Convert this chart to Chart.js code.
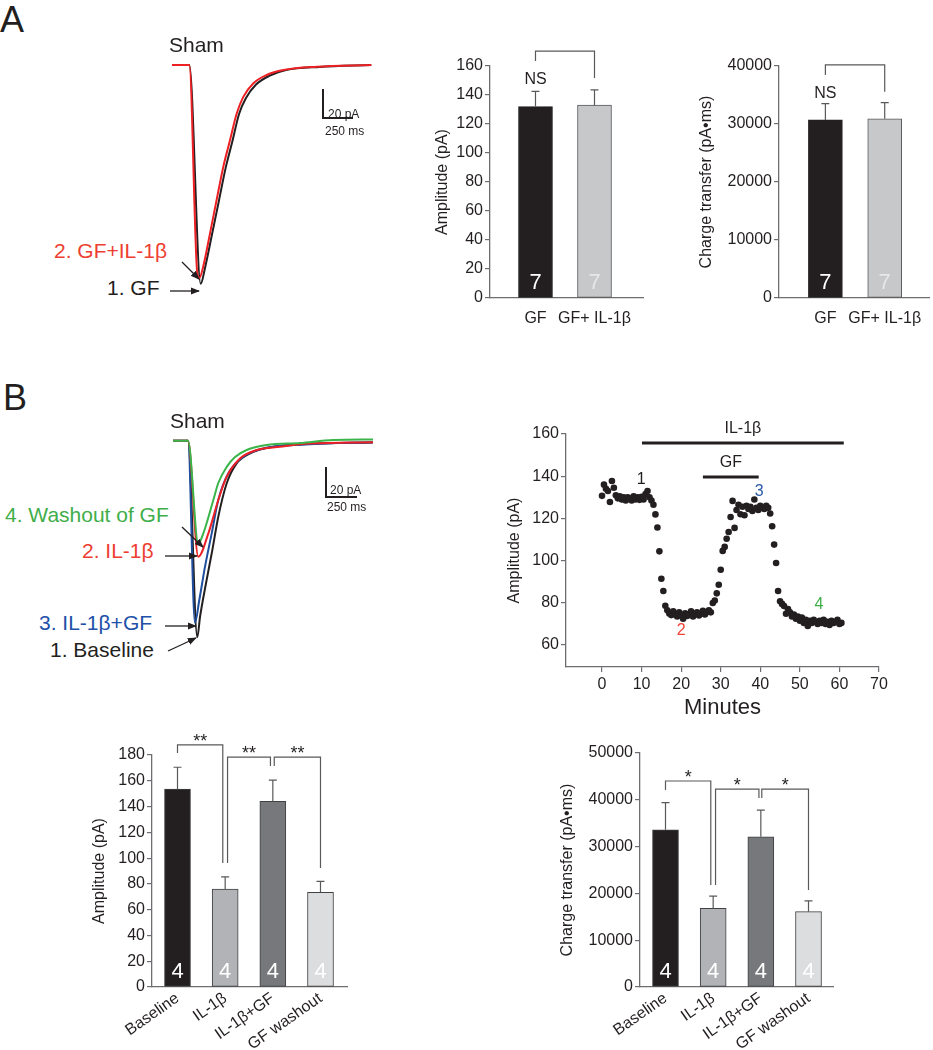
<!DOCTYPE html>
<html>
<head>
<meta charset="utf-8">
<script src="https://cdn.jsdelivr.net/npm/chart.js@4.4.1/dist/chart.umd.min.js"></script>
<style>
  body { margin: 0; background: #fff; font-family: "Liberation Sans", Arial, sans-serif; }
  #fig { position: relative; width: 933px; height: 1050px; overflow: hidden; background: #fff; }
  #fig canvas { position: absolute; }
  .rot { position: absolute; white-space: nowrap; line-height: 1; color: #231f20; z-index: 2; }
  #anot { position: absolute; left: 0; top: 0; z-index: 2; pointer-events: none; }
</style>
</head>
<body>
<div id="fig">
  <div class="rot" style="left:0px;top:2px;font-size:36px">A</div>
  <div class="rot" style="left:3px;top:380px;font-size:36px">B</div>

  <!-- rótulos dos traços do painel A -->
  <div class="rot" style="left:169px;top:34px;font-size:21px">Sham</div>
  <div class="rot" style="left:54px;top:240px;font-size:21px;color:#ee3e32">2. GF+IL-1β</div>
  <div class="rot" style="left:107px;top:277px;font-size:21px">1. GF</div>
  <div class="rot" style="left:328px;top:108px;font-size:12px">20 pA</div>
  <div class="rot" style="left:325px;top:125px;font-size:12px">250 ms</div>

  <!-- rótulos dos traços do painel B -->
  <div class="rot" style="left:170px;top:410px;font-size:21px">Sham</div>
  <div class="rot" style="left:5px;top:504px;font-size:21px;color:#3fae49">4. Washout of GF</div>
  <div class="rot" style="left:82px;top:540px;font-size:21px;color:#ee3e32">2. IL-1β</div>
  <div class="rot" style="left:39px;top:612px;font-size:21px;color:#2150a8">3. IL-1β+GF</div>
  <div class="rot" style="left:50px;top:639px;font-size:21px">1. Baseline</div>
  <div class="rot" style="left:330px;top:484px;font-size:12px">20 pA</div>
  <div class="rot" style="left:327px;top:501px;font-size:12px">250 ms</div>

  <svg id="anot" width="933" height="1050">
    <defs>
      <marker id="seta" viewBox="0 0 10 10" refX="9" refY="5" markerWidth="7" markerHeight="7" orient="auto">
        <path d="M0,1 L10,5 L0,9 z" fill="#231f20"/>
      </marker>
    </defs>
    <g stroke="#231f20" stroke-width="1.3" fill="none">
      <line x1="170" y1="291" x2="199" y2="291" marker-end="url(#seta)"/>
      <line x1="182" y1="262" x2="199" y2="279" marker-end="url(#seta)"/>
      <line x1="182" y1="527" x2="203" y2="547" marker-end="url(#seta)"/>
      <line x1="165" y1="556" x2="197" y2="556" marker-end="url(#seta)"/>
      <line x1="165" y1="626" x2="196" y2="626" marker-end="url(#seta)"/>
      <line x1="168" y1="651" x2="196" y2="638" marker-end="url(#seta)"/>
    </g>
    <!-- barras de escala -->
    <polyline points="323,89 323,118 353,118" fill="none" stroke="#231f20" stroke-width="2"/>
    <polyline points="326,467 326,497 357,497" fill="none" stroke="#231f20" stroke-width="2"/>
  </svg>
</div>

<script>
// ---------- Dados ----------
// Painel A: barras
const categoriasA = ['GF', 'GF+ IL-1β'];
const amplitudeA = [132, 133];
const amplitudeAErro = [10.5, 10.5];
const cargaA = [30700, 30900];
const cargaAErro = [2800, 2800];
const nA = [7, 7];

// Painel B: barras
const categoriasB = ['Baseline', 'IL-1β', 'IL-1β+GF', 'GF washout'];
const amplitudeB = [153.5, 76, 144, 73.5];
const amplitudeBErro = [17, 9.5, 16.5, 8.5];
const cargaB = [33600, 16800, 32100, 16100];
const cargaBErro = [5800, 2600, 5700, 2300];
const nB = [4, 4, 4, 4];

// Painel B: curso temporal (minutos, pA)
const tempo = [0, 0.5, 1, 1.5, 2, 2.5, 3, 3.5, 4, 4.5, 5, 5.5, 6, 6.5, 7, 7.5, 8, 8.5, 9, 9.5,
  10, 10.5, 11, 11.5, 12, 12.5, 13, 13.5, 14, 14.5, 15, 15.5, 16, 16.5, 17, 17.5, 18, 18.5, 19, 19.5,
  20, 20.5, 21, 21.5, 22, 22.5, 23, 23.5, 24, 24.5, 25, 25.5, 26, 26.5, 27, 27.5, 28, 28.5, 29, 29.5,
  30, 30.5, 31, 31.5, 32, 32.5, 33, 33.5, 34, 34.5, 35, 35.5, 36, 36.5, 37, 37.5, 38, 38.5, 39, 39.5,
  40, 40.5, 41, 41.5, 42, 42.5, 43, 43.5, 44, 44.5, 45, 45.5, 46, 46.5, 47, 47.5, 48, 48.5, 49, 49.5,
  50, 50.5, 51, 51.5, 52, 52.5, 53, 53.5, 54, 54.5, 55, 55.5, 56, 56.5, 57, 57.5, 58, 58.5, 59, 59.5,
  60, 60.5];
const amplitude = [130.7, 136, 134, 133, 127.8, 137.7, 134.5, 131, 129.5, 130.5, 129, 130, 128.5, 130, 129.5, 128.5, 130.5, 129, 130, 128.8,
  130.2, 129, 131.5, 133, 130, 128.5, 126.5, 121.9, 115.7, 104.4, 91.4, 85.6, 78.6, 76.5, 75, 74.2, 76, 74.5, 73.5, 75.5,
  74, 72.5, 75, 73.8, 74.5, 76, 73.5, 74.8, 75.5, 74, 75, 76.2, 74.5, 75.5, 76.5, 75.5, 79.9, 81.1, 84.5, 88.6,
  95.7, 104.6, 106.5, 110.4, 113.6, 120.7, 128.3, 115.5, 124, 126.5, 122, 125.5, 121.5, 126, 124.5, 125.5, 123.5, 129, 125, 124,
  126, 125, 124.5, 126, 125, 122.3, 116.3, 107.6, 98.9, 85.6, 80.7, 79.5, 78.5, 74.8, 77, 75.5, 73.5, 74.5, 72.5, 73.5,
  71.5, 73, 70.5, 72, 69, 71.5, 70.5, 72, 71, 70, 71.5, 70.5, 72, 70, 71, 69.5, 71.5, 70.5, 71, 72,
  70, 70.5];
const ticksMinutos = [0, 10, 20, 30, 40, 50, 60, 70];
const ticksAmpCurso = [60, 80, 100, 120, 140, 160];

// Traços de corrente (ms, pA)
const tA_gf = [0, 144, 239, 275, 333, 390, 447, 502, 558, 615, 700, 810, 950, 1230, 1660];
const iA_gf = [0, 0, -151, -140, -117, -94, -71, -53, -34, -23, -13.5, -7.5, -3.5, -1.3, 0];
const tA_gfil = [0, 144, 211, 228, 260, 317, 372, 428, 483, 539, 594, 678, 789, 928, 1206, 1660];
const iA_gfil = [0, 0, -144, -147, -139, -116, -93, -70, -52, -33.5, -22, -12.6, -6.9, -3.5, -1.2, 0];

const tB_base = [0, 121, 196, 218, 266, 317, 365, 433, 513, 621, 809, 1100, 1612];
const iB_base = [0, 0, -128, -114.6, -92.8, -71.2, -49.5, -27.7, -14.7, -8.2, -3.9, -2, -1.2];
const tB_il = [0, 121, 204, 285, 365, 433, 540, 675, 862, 1100, 1612];
const iB_il = [0, 0, -75.5, -60.3, -38.6, -23.4, -11.5, -6, -3.9, -1.8, -1];
const tB_ilgf = [0, 121, 177, 212, 258, 312, 365, 446, 567, 728, 970, 1300, 1612];
const iB_ilgf = [0, 0, -118.5, -103.7, -82, -60.3, -38.6, -21.2, -10.4, -5, -2.8, -1.5, -1];
const tB_wash = [0, 121, 204, 243, 325, 365, 433, 500, 594, 755, 1024, 1290, 1612];
const iB_wash = [0, 0, -67, -60.6, -38.6, -27.5, -17, -10.6, -6, -2.8, -1.5, 0.5, 0.8];

// ---------- Configuração ----------
Chart.defaults.font.family = '"Liberation Sans", Arial, sans-serif';
Chart.defaults.color = '#231f20';
const corEixo = '#6d6e71';
const corLinha = '#58595b';
const fonte = '"Liberation Sans", Arial, sans-serif';

function criarCanvas(left, top, w, h) {
  const c = document.createElement('canvas');
  c.width = w; c.height = h;
  c.style.left = left + 'px'; c.style.top = top + 'px';
  c.style.width = w + 'px'; c.style.height = h + 'px';
  const fig = document.getElementById('fig');
  fig.insertBefore(c, fig.firstChild);
  return c.getContext('2d');
}

const opcoesBase = {
  responsive: false,
  animation: false,
  devicePixelRatio: 1,
  events: [],
  plugins: { legend: { display: false }, tooltip: { enabled: false } }
};

// traço de corrente sem eixos
function graficoTraco(ctx, series, xmax, ymin, ymax) {
  new Chart(ctx, {
    type: 'line',
    data: {
      datasets: series.map(s => ({
        data: s.t.map((t, i) => ({ x: t, y: s.i[i] })),
        borderColor: s.cor,
        borderWidth: 2,
        pointRadius: 0,
        cubicInterpolationMode: 'monotone',
        clip: false
      }))
    },
    options: {
      ...opcoesBase,
      layout: { padding: 0 },
      scales: {
        x: { type: 'linear', display: false, min: 0, max: xmax },
        y: { display: false, min: ymin, max: ymax }
      }
    }
  });
}

// barras de erro, n dentro das barras e chaves de significância
function extrasBarras(valores, erros, ns, coresN, chaves, textos) {
  return {
    id: 'extrasBarras',
    afterDatasetsDraw(chart) {
      const ctx = chart.ctx;
      const x = chart.scales.x, y = chart.scales.y;
      const meta = chart.getDatasetMeta(0);
      ctx.save();
      ctx.strokeStyle = corLinha;
      ctx.lineWidth = 1.2;
      meta.data.forEach((bar, i) => {
        const topo = y.getPixelForValue(valores[i] + erros[i]);
        ctx.beginPath();
        ctx.moveTo(bar.x, bar.y);
        ctx.lineTo(bar.x, topo);
        ctx.moveTo(bar.x - 4, topo);
        ctx.lineTo(bar.x + 4, topo);
        ctx.stroke();
        ctx.fillStyle = coresN[i];
        ctx.font = '22px ' + fonte;
        ctx.textAlign = 'center';
        ctx.textBaseline = 'alphabetic';
        ctx.fillText(String(ns[i]), bar.x, y.bottom - 9);
      });
      chaves.forEach(c => {
        const x1 = x.getPixelForValue(c.de), x2 = x.getPixelForValue(c.ate);
        const yt = y.getPixelForValue(c.topo);
        ctx.beginPath();
        ctx.moveTo(x1, y.getPixelForValue(c.fimEsq));
        ctx.lineTo(x1, yt);
        ctx.lineTo(x2, yt);
        ctx.lineTo(x2, y.getPixelForValue(c.fimDir));
        ctx.strokeStyle = corLinha;
        ctx.lineWidth = 1.2;
        ctx.stroke();
        if (c.texto) {
          ctx.fillStyle = '#231f20';
          ctx.font = '18px ' + fonte;
          ctx.textAlign = 'center';
          ctx.textBaseline = 'alphabetic';
          ctx.fillText(c.texto, (x1 + x2) / 2, yt + 2);
        }
      });
      textos.forEach(t => {
        ctx.fillStyle = '#231f20';
        ctx.font = '16px ' + fonte;
        ctx.textAlign = 'center';
        ctx.textBaseline = 'middle';
        ctx.fillText(t.texto, x.getPixelForValue(t.x), y.getPixelForValue(t.y));
      });
      ctx.restore();
    }
  };
}

function graficoBarras(ctx, cfg) {
  new Chart(ctx, {
    type: 'bar',
    data: {
      datasets: [{
        data: cfg.categorias.map((_, i) => ({ x: i + 1, y: cfg.valores[i] })),
        backgroundColor: cfg.cores,
        borderColor: cfg.bordas,
        borderWidth: 1,
        borderSkipped: false,
        barThickness: cfg.espessura
      }]
    },
    options: {
      ...opcoesBase,
      layout: { padding: { top: cfg.padTop, right: cfg.padRight, left: 0, bottom: 0 } },
      scales: {
        x: {
          type: 'linear',
          offset: false,
          min: cfg.xmin, max: cfg.xmax,
          afterBuildTicks: s => { s.ticks = cfg.categorias.map((_, i) => ({ value: i + 1 })); },
          afterFit: s => { s.height = cfg.alturaX; },
          grid: { display: false, drawTicks: false, offset: false },
          border: { display: true, color: corEixo, width: 1.3 },
          ticks: {
            autoSkip: false,
            minRotation: cfg.rotacao, maxRotation: cfg.rotacao,
            padding: cfg.padTicksX,
            font: { size: 16 },
            callback: v => cfg.categorias[v - 1]
          }
        },
        y: {
          min: 0, max: cfg.ymax,
          afterBuildTicks: s => { s.ticks = cfg.ticksY.map(v => ({ value: v })); },
          afterFit: s => { s.width = cfg.larguraY; },
          grid: { drawOnChartArea: false, drawTicks: true, tickLength: 5, color: corEixo, lineWidth: 1.2 },
          border: { display: true, color: corEixo, width: 1.3 },
          ticks: { padding: 2, font: { size: 16 }, callback: v => String(v) },
          title: { display: true, text: cfg.titulo, font: { size: 16 }, padding: { top: 4, bottom: 4 } }
        }
      }
    },
    plugins: [extrasBarras(cfg.valores, cfg.erros, cfg.n, cfg.coresN, cfg.chaves, cfg.textos)]
  });
}

// ---------- Painel A ----------
graficoTraco(criarCanvas(172, 55, 200, 240), [
  { t: tA_gfil, i: iA_gfil, cor: '#ed2024' },
  { t: tA_gf, i: iA_gf, cor: '#231f20' }
], 1666, -158.7, 6.9);

graficoBarras(criarCanvas(429, 30, 231, 310), {
  categorias: categoriasA, valores: amplitudeA, erros: amplitudeAErro, n: nA,
  cores: ['#231f20', '#c7c8ca'], bordas: ['#231f20', '#58595b'], coresN: ['#ffffff', '#e6e7e8'],
  espessura: 34, xmin: 0.229, xmax: 2.822, ymax: 160, ticksY: [0, 20, 40, 60, 80, 100, 120, 140, 160],
  padTop: 36, padRight: 17, larguraY: 61, alturaX: 42, rotacao: 0, padTicksX: 11,
  titulo: 'Amplitude (pA)',
  chaves: [{ de: 1, ate: 2, topo: 170.3, fimEsq: 163.4, fimDir: 151.7 }],
  textos: [{ texto: 'NS', x: 1, y: 150.3 }]
});

graficoBarras(criarCanvas(693, 30, 240, 310), {
  categorias: categoriasA, valores: cargaA, erros: cargaAErro, n: nA,
  cores: ['#231f20', '#c7c8ca'], bordas: ['#231f20', '#58595b'], coresN: ['#ffffff', '#e6e7e8'],
  espessura: 34, xmin: 0.218, xmax: 2.756, ymax: 40000, ticksY: [0, 10000, 20000, 30000, 40000],
  padTop: 36, padRight: 3, larguraY: 86, alturaX: 42, rotacao: 0, padTicksX: 11,
  titulo: 'Charge transfer (pA•ms)',
  chaves: [{ de: 1, ate: 2, topo: 40200, fimEsq: 38450, fimDir: 35570 }],
  textos: [{ texto: 'NS', x: 1, y: 35170 }]
});

// ---------- Painel B ----------
graficoTraco(criarCanvas(173, 430, 200, 215), [
  { t: tB_wash, i: iB_wash, cor: '#3ab54a' },
  { t: tB_il, i: iB_il, cor: '#ed2024' },
  { t: tB_ilgf, i: iB_ilgf, cor: '#1f4e9f' },
  { t: tB_base, i: iB_base, cor: '#231f20' }
], 1612, -133, 7);

// curso temporal
const barrasTratamento = [
  { rotulo: 'IL-1β', inicio: 10.1, fim: 61.1, nivel: 155.7 },
  { rotulo: 'GF', inicio: 25.5, fim: 39.6, nivel: 139.6 }
];
const marcadores = [
  { texto: '1', t: 9.9, v: 138.2, cor: '#231f20' },
  { texto: '2', t: 20, v: 67, cor: '#ef4136' },
  { texto: '3', t: 39.7, v: 132.5, cor: '#2b59a8' },
  { texto: '4', t: 54.8, v: 79, cor: '#3fae49' }
];

const anotCurso = {
  id: 'anotCurso',
  afterDatasetsDraw(chart) {
    const ctx = chart.ctx, x = chart.scales.x, y = chart.scales.y;
    ctx.save();
    ctx.font = '16px ' + fonte;
    ctx.textAlign = 'center';
    ctx.textBaseline = 'middle';
    barrasTratamento.forEach(b => {
      const x1 = x.getPixelForValue(b.inicio), x2 = x.getPixelForValue(b.fim);
      const yy = y.getPixelForValue(b.nivel);
      ctx.strokeStyle = '#231f20';
      ctx.lineWidth = 3;
      ctx.beginPath();
      ctx.moveTo(x1, yy);
      ctx.lineTo(x2, yy);
      ctx.stroke();
      ctx.fillStyle = '#231f20';
      ctx.fillText(b.rotulo, (x1 + x2) / 2, yy - 14);
    });
    marcadores.forEach(m => {
      ctx.fillStyle = m.cor;
      ctx.fillText(m.texto, x.getPixelForValue(m.t), y.getPixelForValue(m.v));
    });
    ctx.restore();
  }
};

new Chart(criarCanvas(501, 400, 420, 325), {
  type: 'scatter',
  data: {
    datasets: [{
      data: tempo.map((t, i) => ({ x: t, y: amplitude[i] })),
      backgroundColor: '#231f20',
      borderColor: '#231f20',
      borderWidth: 0,
      pointRadius: 3.3
    }]
  },
  options: {
    ...opcoesBase,
    layout: { padding: { top: 34, right: 42, left: 0, bottom: 0 } },
    scales: {
      x: {
        type: 'linear', min: -9.1, max: 70,
        afterBuildTicks: s => { s.ticks = ticksMinutos.map(v => ({ value: v })); },
        afterFit: s => { s.height = 58; },
        grid: { drawOnChartArea: false, drawTicks: true, tickLength: 5, color: corEixo, lineWidth: 1.2 },
        border: { display: true, color: corEixo, width: 1.3 },
        ticks: { autoSkip: false, maxRotation: 0, padding: 3, font: { size: 16 }, callback: v => String(v) },
        title: { display: true, text: 'Minutes', font: { size: 22 }, padding: { top: 0, bottom: 4 } }
      },
      y: {
        min: 49.6, max: 160,
        afterBuildTicks: s => { s.ticks = ticksAmpCurso.map(v => ({ value: v })); },
        afterFit: s => { s.width = 65; },
        grid: { drawOnChartArea: false, drawTicks: true, tickLength: 5, color: corEixo, lineWidth: 1.2 },
        border: { display: true, color: corEixo, width: 1.3 },
        ticks: { padding: 2, font: { size: 16 }, callback: v => String(v) },
        title: { display: true, text: 'Amplitude (pA)', font: { size: 16 }, padding: { top: 4, bottom: 4 } }
      }
    }
  },
  plugins: [anotCurso]
});

graficoBarras(criarCanvas(86, 720, 280, 330), {
  categorias: categoriasB, valores: amplitudeB, erros: amplitudeBErro, n: nB,
  cores: ['#231f20', '#b1b3b6', '#77787b', '#dcddde'], bordas: '#414042', coresN: ['#ffffff', '#ffffff', '#ffffff', '#ffffff'],
  espessura: 26, xmin: 0.465, xmax: 4.556, ymax: 180, ticksY: [0, 20, 40, 60, 80, 100, 120, 140, 160, 180],
  padTop: 35, padRight: 19, larguraY: 66, alturaX: 63, rotacao: 35, padTicksX: 2,
  titulo: 'Amplitude (pA)',
  chaves: [
    { de: 1, ate: 1.95, topo: 187.8, fimEsq: 181.6, fimDir: 96.2, texto: '**' },
    { de: 2.05, ate: 2.95, topo: 178.4, fimEsq: 96.2, fimDir: 171.4, texto: '**' },
    { de: 3.03, ate: 4, topo: 178.4, fimEsq: 171.4, fimDir: 92.3, texto: '**' }
  ],
  textos: []
});

graficoBarras(criarCanvas(554, 720, 300, 330), {
  categorias: categoriasB, valores: cargaB, erros: cargaBErro, n: nB,
  cores: ['#231f20', '#b1b3b6', '#77787b', '#dcddde'], bordas: '#414042', coresN: ['#ffffff', '#ffffff', '#ffffff', '#ffffff'],
  espessura: 26, xmin: 0.465, xmax: 4.514, ymax: 50000, ticksY: [0, 10000, 20000, 30000, 40000, 50000],
  padTop: 33, padRight: 21, larguraY: 86, alturaX: 63, rotacao: 35, padTicksX: 2,
  titulo: 'Charge transfer (pA•ms)',
  chaves: [
    { de: 1, ate: 1.95, topo: 44020, fimEsq: 42090, fimDir: 21800, texto: '*' },
    { de: 2.05, ate: 2.96, topo: 42300, fimEsq: 21800, fimDir: 40380, texto: '*' },
    { de: 3.02, ate: 4, topo: 42300, fimEsq: 40380, fimDir: 20730, texto: '*' }
  ],
  textos: []
});
</script>
</body>
</html>
